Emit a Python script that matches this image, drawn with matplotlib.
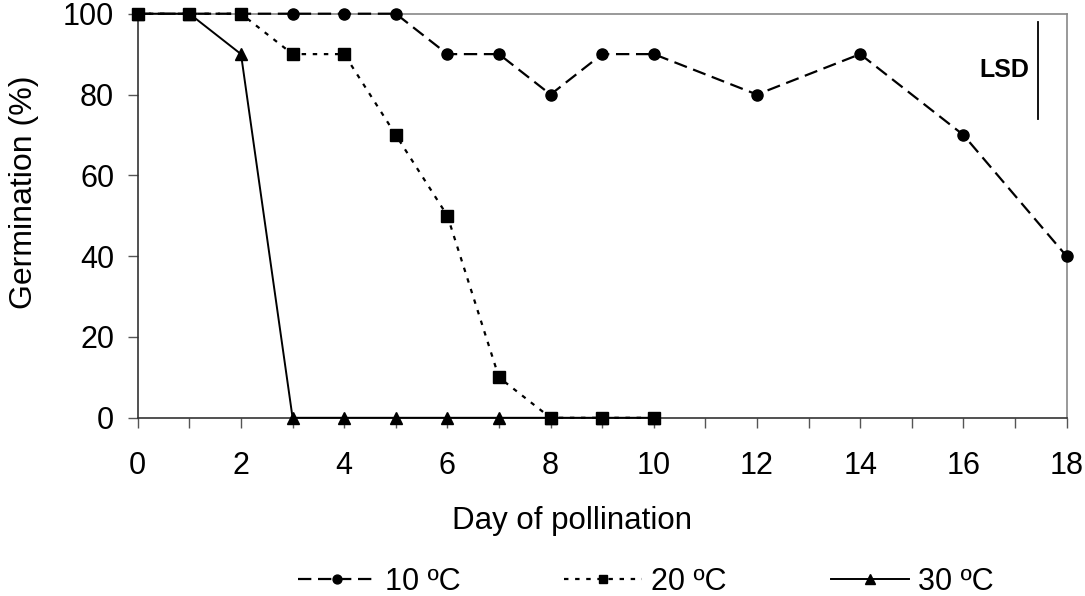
import matplotlib.pyplot as plt
from matplotlib.ticker import MultipleLocator

plt.rcParams['font.family'] = ['Liberation Sans', 'DejaVu Sans']

# data
days_10 = [0, 1, 2, 3, 4, 5, 6, 7, 8, 9, 10, 12, 14, 16, 18]
germ_10 = [100, 100, 100, 100, 100, 100, 90, 90, 80, 90, 90, 80, 90, 70, 40]

days_20 = [0, 1, 2, 3, 4, 5, 6, 7, 8, 9, 10]
germ_20 = [100, 100, 100, 90, 90, 70, 50, 10, 0, 0, 0]

days_30 = [0, 1, 2, 3, 4, 5, 6, 7, 8, 9, 10]
germ_30 = [100, 100, 90, 0, 0, 0, 0, 0, 0, 0, 0]

lsd_x = 17.45
lsd_range = [74, 98]

fig = plt.figure(figsize=(10.85, 5.96), dpi=100)
ax = fig.add_axes([0.127, 0.299, 0.856, 0.678])

ax.plot(days_30, germ_30, color="black", linestyle="-", linewidth=1.4,
        marker="^", markersize=9, label="30 ºC", zorder=3, clip_on=False)
ax.plot(days_20, germ_20, color="black", linestyle=(0, (2, 3)), linewidth=1.6,
        marker="s", markersize=8, label="20 ºC", zorder=4, clip_on=False)
ax.plot(days_10, germ_10, color="black", linestyle=(0, (6, 3)), linewidth=1.6,
        marker="o", markersize=8, label="10 ºC", zorder=5, clip_on=False)

# LSD bar
ax.plot([lsd_x, lsd_x], lsd_range, color="black", linewidth=1.3)
ax.text(lsd_x - 0.18, 86, "LSD", ha="right", va="center", fontsize=18, fontweight="bold")

ax.set_xlim(0, 18)
ax.set_ylim(0, 100)
ax.xaxis.set_major_locator(MultipleLocator(2))
ax.xaxis.set_minor_locator(MultipleLocator(1))
ax.yaxis.set_major_locator(MultipleLocator(20))

ax.tick_params(axis="both", which="both", direction="out", labelsize=22,
               color="#555555", width=1.0)
ax.tick_params(axis="x", which="both", length=7, pad=17)
ax.tick_params(axis="y", length=7, pad=10)

for side in ["top", "right"]:
    ax.spines[side].set_color("#888888")
    ax.spines[side].set_linewidth(1.2)
for side in ["left", "bottom"]:
    ax.spines[side].set_color("#333333")
    ax.spines[side].set_linewidth(1.2)

ax.set_xlabel("Day of pollination", fontsize=22.5, va="center")
ax.xaxis.set_label_coords(0.467, -0.255)
ax.set_ylabel("Germination (%)", fontsize=23)
ax.yaxis.set_label_coords(-0.127 + 19 / 1085 / 0.856, 0.557)

handles, labels = ax.get_legend_handles_labels()
order = [2, 1, 0]
fig.legend([handles[i] for i in order], [labels[i] for i in order],
           loc="center", bbox_to_anchor=(0.595, 0.024), ncol=3, frameon=False,
           fontsize=22, handlelength=2.55, columnspacing=3.4, handletextpad=0.3,
           markerscale=0.8)

plt.savefig("out.png", dpi=100)
